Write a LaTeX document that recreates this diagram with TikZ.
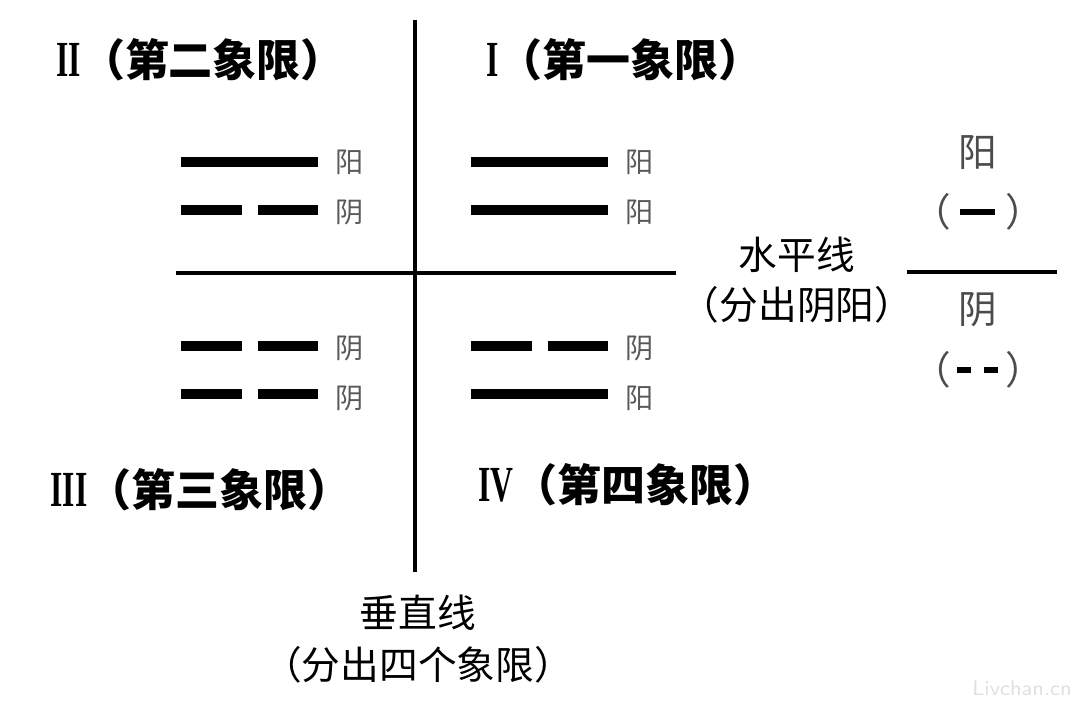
\documentclass[tikz,border=0pt]{standalone}
\usepackage{fontspec}
\newfontfamily\cjk{Noto Sans CJK SC}
\newfontfamily\numfont{Liberation Serif}
\begin{document}
\begin{tikzpicture}[x=0.01cm,y=-0.01cm,
            title node/.style={anchor=west, font=\cjk\bfseries\fontsize{12.5}{14}\selectfont},
            mark node/.style={font=\cjk\fontsize{8}{9}\selectfont, text=black!65},
            note node/.style={font=\cjk\fontsize{11}{12}\selectfont},
            yang/.style={line width=2.8pt},
            axis/.style={line width=0.9pt},
            ]
            \useasboundingbox (0,0) rectangle (1080,704);
            % solid and broken bars
            \def\yangbar#1#2{\draw[yang] (#1,#2) -- ++(137,0);}
            \def\yinbar#1#2{\draw[yang] (#1,#2) -- ++(61,0) (#1+77,#2) -- ++(60,0);}
            \def\num#1{{\numfont\bfseries\scalebox{0.72}[1.15]{#1}}}

            \coordinate (vtop) at (415,20);
            \coordinate (vbot) at (415,572);
            \coordinate (hleft) at (176,273);
            \coordinate (hright) at (676,273);
            \draw[axis] (vtop) -- (vbot);
            \draw[axis] (hleft) -- (hright);

            \node[title node] (q2) at (44,60) {\num{II}（第二象限）};
            \node[title node] (q1) at (474,60) {\num{I}（第一象限）};
            \node[title node] (q3) at (38,490) {\num{III}（第三象限）};
            \node[title node] (q4) at (466,485) {\num{IV}（第四象限）};

            \yangbar{181}{162} \yinbar{181}{210}
            \yangbar{471}{162} \yangbar{471}{210}
            \yinbar{181}{346} \yinbar{181}{394}
            \yinbar{471}{346} \yangbar{471}{394}

            \node[mark node] (m1) at (350,162) {阳};
            \node[mark node] (m2) at (350,212) {阴};
            \node[mark node] (m3) at (640,162) {阳};
            \node[mark node] (m4) at (640,212) {阳};
            \node[mark node] (m5) at (350,348) {阴};
            \node[mark node] (m6) at (350,398) {阴};
            \node[mark node] (m7) at (640,348) {阴};
            \node[mark node] (m8) at (640,398) {阳};

            \node[note node] (hname) at (797,255) {水平线};
            \node[note node] (hnote) at (797,305) {（分出阴阳）};
            \node[note node] (vname) at (418,613) {垂直线};
            \node[note node] (vnote) at (418,665) {（分出四个象限）};

            % legend on the right
            \coordinate (lleft) at (907,272);
            \coordinate (lright) at (1057,272);
            \draw[axis] (lleft) -- (lright);
            \node[note node, text=black!70] (lyang) at (978,153) {阳};
            \node[note node, text=black!70] (lyangp) at (978,212) {（\hspace{1.4em}）};
            \draw[line width=1.8pt] (960,212) -- (995,212);
            \node[note node, text=black!70] (lyin) at (978,310) {阴};
            \node[note node, text=black!70] (lyinp) at (978,370) {（\hspace{1.4em}）};
            \draw[line width=1.8pt] (957,370) -- (971,370) (984,370) -- (998,370);

            \node[font=\sffamily\fontsize{6}{7}\selectfont, text=black!12] (wm) at (1022,688) {Livchan.cn};
        \end{tikzpicture}
\end{document}
